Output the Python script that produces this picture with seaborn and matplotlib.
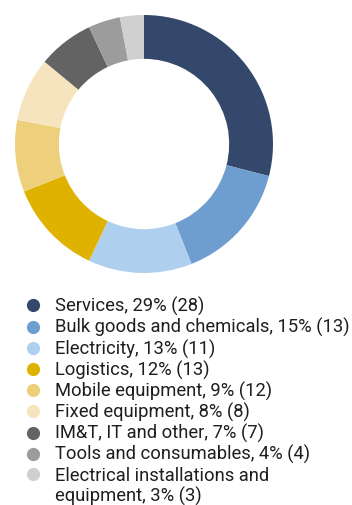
import matplotlib
matplotlib.use("Agg")
import matplotlib.pyplot as plt
from matplotlib.lines import Line2D
import seaborn as sns

categories = ["Services", "Bulk goods and chemicals", "Electricity", "Logistics",
              "Mobile equipment", "Fixed equipment", "IM&T, IT and other",
              "Tools and consumables", "Electrical installations and equipment"]
shares = [29, 15, 13, 12, 9, 8, 7, 4, 3]
previous = [28, 13, 11, 13, 12, 8, 7, 4, 3]
colors = ["#34486b", "#6e9ecf", "#aed0ee", "#e0b200", "#eecf7b",
          "#f6e4bf", "#636363", "#9c9c9c", "#d0d0d0"]

sns.set_theme(style="white")
plt.rcParams['font.family'] = ['Roboto', 'DejaVu Sans']
palette = sns.color_palette(colors)

fig = plt.figure(figsize=(3.52, 5.05), dpi=100)
ax = fig.add_axes([15/352, 1 - 273/505, 258/352, 258/505])
ax.pie(shares, colors=palette, startangle=90, counterclock=False,
       radius=1.0, wedgeprops=dict(width=0.34, edgecolor='none', linewidth=0))
ax.set_xlim(-1, 1)
ax.set_ylim(-1, 1)
ax.set_aspect('equal')
ax.axis('off')

labels = [f"{c}, {s}% ({p})" for c, s, p in zip(categories, shares, previous)]
handles = [Line2D([0], [0], marker='o', linestyle='none', markersize=9.5,
                  markerfacecolor=col, markeredgecolor='none') for col in palette]
# wrap the last long label onto a second legend row (marker aligned with first line)
last = labels[-1]
split_at = last.index("and ") + 3
labels = labels[:-1] + [last[:split_at], last[split_at + 1:]]
handles = handles + [Line2D([0], [0], linestyle='none', marker=None)]

fig.legend(handles, labels, loc='upper left', bbox_to_anchor=(24/352, 1 - 297/505),
           frameon=False, fontsize=13.2, handlelength=1.0, handletextpad=0.69,
           labelspacing=0.11, borderpad=0, borderaxespad=0, labelcolor='#1e1e1e')

fig.savefig("out.png", dpi=100, facecolor='white')
